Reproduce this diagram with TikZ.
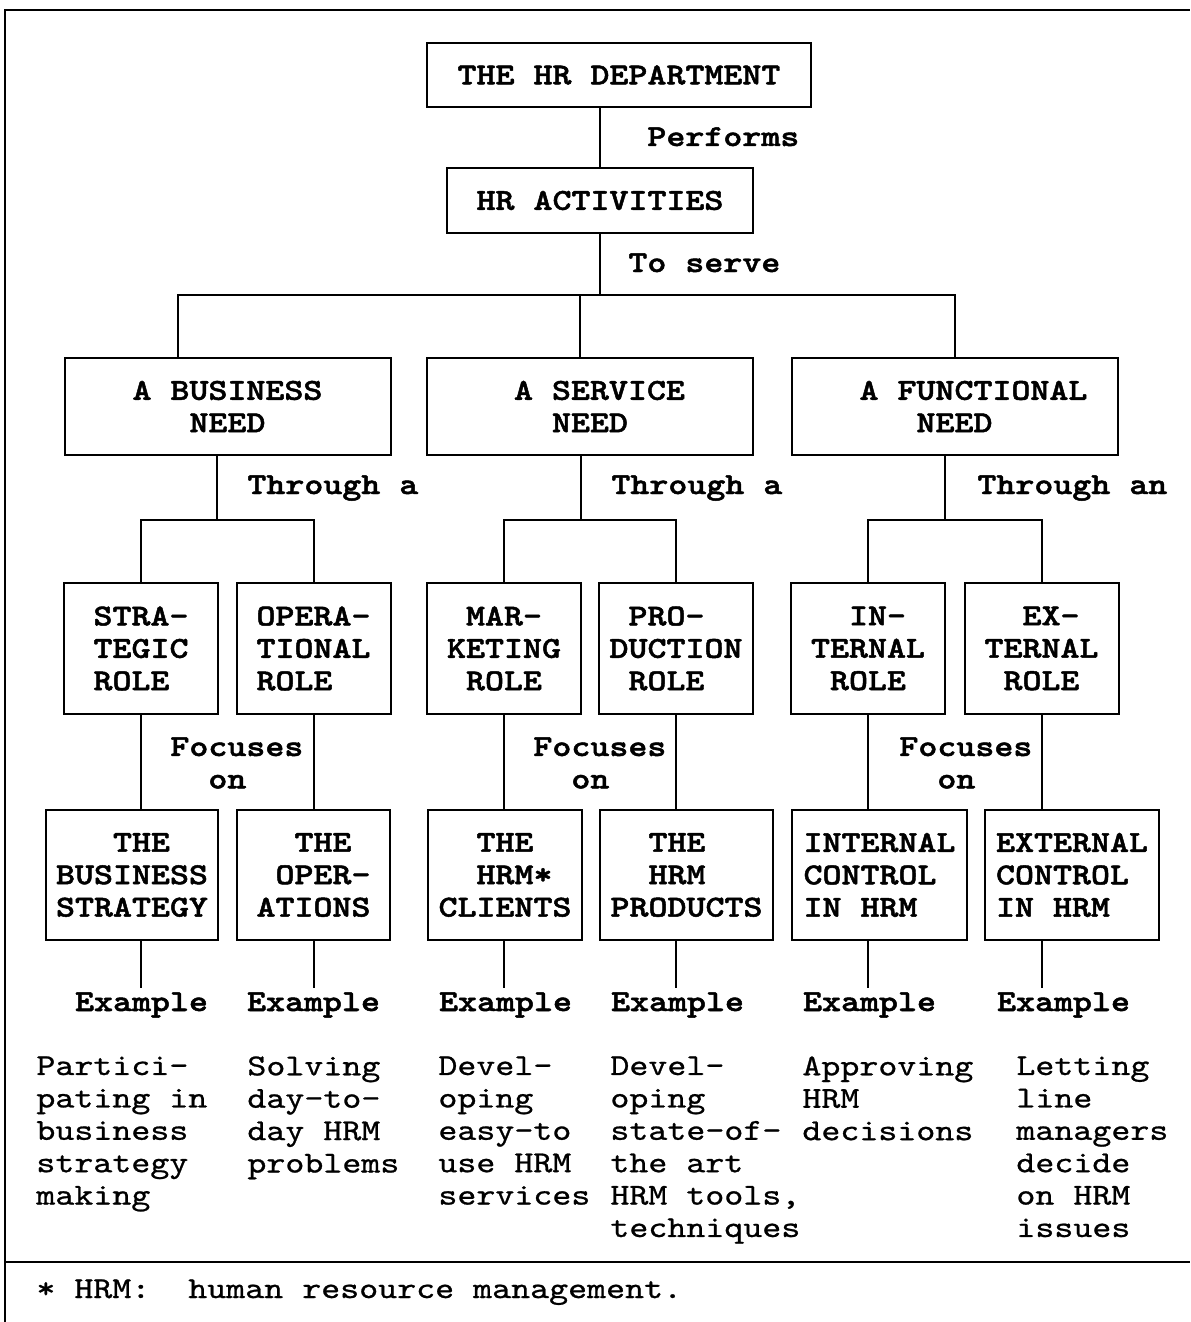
\documentclass[tikz,border=0pt]{standalone}
\usepackage{fontspec}
\newfontfamily\chartfont{lmmono10-regular.otf}[BoldFont=lmmonolt10-bold.otf, FakeStretch=1.19,
  BoldFeatures={FakeBold=1.6}]
\newfontfamily\notefont{lmmono10-regular.otf}[FakeStretch=1.19, FakeBold=0.8]
\tikzset{
  hrbox/.style={draw, line width=1pt, inner sep=0pt, align=center,
    font=\chartfont\bfseries\fontsize{15.2}{16.2}\selectfont},
  needbox/.style={hrbox, minimum width=163pt, minimum height=48.5pt},
  rolebox/.style={hrbox, align=left, minimum width=77pt, minimum height=65.5pt},
  focusbox/.style={hrbox, align=left, minimum height=65pt},
  tag/.style={inner sep=0pt, font=\chartfont\bfseries\fontsize{15.2}{16.2}\selectfont},
  extag/.style={tag, anchor=base, inner ysep=2pt},
  extext/.style={inner sep=0pt, anchor=north west, align=left,
    font=\notefont\fontsize{15.2}{16.2}\selectfont},
  frame/.style={line width=1.2pt},
  link/.style={line width=1pt}
}
\begin{document}
\begin{tikzpicture}[x=0.5pt,y=-0.5pt]
 \useasboundingbox (0,0) rectangle (1190,1322);
 % frame
 \draw[frame] (5,1322) -- (5,10) -- (1190,10);
 \draw[frame] (5,1262) -- (1190,1262);
 % top
 \node[hrbox, minimum width=192pt, minimum height=32pt] (dept) at (619,75) {THE HR DEPARTMENT};
 \node[hrbox, minimum width=153pt, minimum height=32.5pt] (act) at (600,200.5) {HR ACTIVITIES};
 \node[tag, anchor=base west] (performs) at (647,146) {Performs};
 \node[tag, anchor=base west] (toserve) at (628,272) {To serve};
 % needs
 \node[needbox] (busneed) at (227.5,406.5) {A BUSINESS\\NEED};
 \node[needbox] (servneed) at (590,406.5) {\hphantom{X}A SERVICE\\NEED};
 \node[needbox] (funcneed) at (954.5,406.5) {\hphantom{XX}A FUNCTIONAL\\NEED};
 \node[tag, anchor=base west] (through1) at (247,494) {Through a};
 \node[tag, anchor=base west] (through2) at (611,494) {Through a};
 \node[tag, anchor=base west] (through3) at (977,494) {Through an};
 % roles
 \node[rolebox] (strat) at (141,648.5) {STRA-\\TEGIC\\ROLE};
 \node[rolebox] (oper) at (313.5,648.5) {OPERA-\\TIONAL\\ROLE};
 \node[rolebox] (mark) at (504,648.5) {\hphantom{X}MAR-\\KETING\\\hphantom{X}ROLE};
 \node[rolebox] (prod) at (676,648.5) {\hphantom{X}PRO-\\DUCTION\\\hphantom{X}ROLE};
 \node[rolebox] (intern) at (868,648.5) {\hphantom{XX}IN-\\TERNAL\\\hphantom{X}ROLE};
 \node[rolebox] (extern) at (1041.5,648.5) {\hphantom{XX}EX-\\TERNAL\\\hphantom{X}ROLE};
 \node[tag, align=left, anchor=north west] (focus1) at (170,737) {Focuses\\\hphantom{XX}on};
 \node[tag, align=left, anchor=north west] (focus2) at (533,737) {Focuses\\\hphantom{XX}on};
 \node[tag, align=left, anchor=north west] (focus3) at (899,737) {Focuses\\\hphantom{XX}on};
 % focus
 \node[focusbox, minimum width=86pt] (bstrat) at (132,875) {\hphantom{XXX}THE\\BUSINESS\\STRATEGY};
 \node[focusbox, minimum width=76.5pt] (ops) at (313.5,875) {\hphantom{XX}THE\\\hphantom{X}OPER-\\ATIONS};
 \node[focusbox, minimum width=77pt] (clients) at (505,875) {\hphantom{XX}THE\\\hphantom{XX}HRM*\\CLIENTS};
 \node[focusbox, minimum width=86.5pt] (products) at (686.5,875) {\hphantom{XX}THE\\\hphantom{XX}HRM\\PRODUCTS};
 \node[focusbox, minimum width=87.5pt] (intctrl) at (879.5,875) {INTERNAL\\CONTROL\\IN HRM};
 \node[focusbox, minimum width=87pt] (extctrl) at (1072,875) {EXTERNAL\\CONTROL\\IN HRM};
 % examples
 \node[extag] (ex1) at (141.5,1011) {Example};
 \node[extag] (ex2) at (313.5,1011) {Example};
 \node[extag] (ex3) at (505.5,1011) {Example};
 \node[extag] (ex4) at (677.5,1011) {Example};
 \node[extag] (ex5) at (869.5,1011) {Example};
 \node[extag] (ex6) at (1063.5,1011) {Example};
 \node[extext] (txt1) at (36,1056) {Partici-\\pating in\\business\\strategy\\making};
 \node[extext] (txt2) at (247,1056) {Solving\\day-to-\\day HRM\\problems};
 \node[extext] (txt3) at (438,1056) {Devel-\\oping\\easy-to\\use HRM\\services};
 \node[extext] (txt4) at (610,1056) {Devel-\\oping\\state-of-\\the art\\HRM tools,\\techniques};
 \node[extext] (txt5) at (802,1056) {Approving\\HRM\\decisions};
 \node[extext] (txt6) at (1016,1056) {Letting\\line\\managers\\decide\\on HRM\\issues};
 \node[extext, anchor=base west] (footnote) at (36,1298) {* HRM:\ \ human resource management.};
 % connectors
 \coordinate (t1) at (178,295);
 \coordinate (t2) at (580,295);
 \coordinate (t3) at (955,295);
 \coordinate (j1) at (217,520);
 \coordinate (j2) at (581,520);
 \coordinate (j3) at (945,520);
 \draw[link] (dept.south -| act.north) -- (act.north);
 \draw[link] (act.south) -- (act.south |- t1);
 \draw[link] (t1 |- busneed.north) |- (t3) -- (t3 |- funcneed.north);
 \draw[link] (t2) -- (t2 |- servneed.north);
 \draw[link] (busneed.south -| j1) -- (j1);
 \draw[link] (servneed.south -| j2) -- (j2);
 \draw[link] (funcneed.south -| j3) -- (j3);
 \draw[link] (strat.north) |- (j1) -| (oper.north);
 \draw[link] (mark.north) |- (j2) -| (prod.north);
 \draw[link] (intern.north) |- (j3) -| (extern.north);
 \draw[link] (strat.south) -- (strat.south |- bstrat.north);
 \draw[link] (oper.south) -- (oper.south |- ops.north);
 \draw[link] (mark.south) -- (mark.south |- clients.north);
 \draw[link] (prod.south) -- (prod.south |- products.north);
 \draw[link] (intern.south) -- (intern.south |- intctrl.north);
 \draw[link] (extern.south) -- (extern.south |- extctrl.north);
 \draw[link] (bstrat.south -| strat.south) -- (ex1.north -| strat.south);
 \draw[link] (ops.south -| oper.south) -- (ex2.north -| oper.south);
 \draw[link] (clients.south -| mark.south) -- (ex3.north -| mark.south);
 \draw[link] (products.south -| prod.south) -- (ex4.north -| prod.south);
 \draw[link] (intctrl.south -| intern.south) -- (ex5.north -| intern.south);
 \draw[link] (extctrl.south -| extern.south) -- (ex6.north -| extern.south);
\end{tikzpicture}
\end{document}
